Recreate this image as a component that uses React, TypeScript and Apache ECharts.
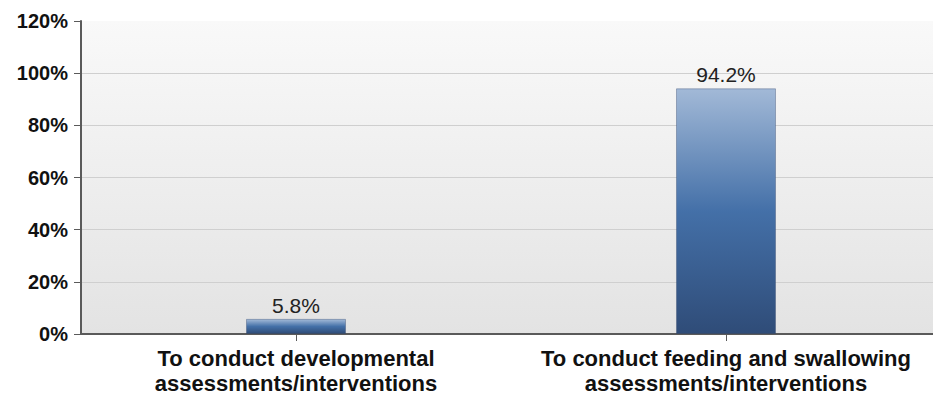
import React, { useEffect, useRef } from "react";
import * as echarts from "echarts";

const categories = [
  "To conduct developmental\nassessments/interventions",
  "To conduct feeding and swallowing\nassessments/interventions",
];
const values = [5.8, 94.2];
const yTicks = [0, 20, 40, 60, 80, 100, 120];

export default function App() {
  const ref = useRef<HTMLDivElement>(null);
  useEffect(() => {
    if (!ref.current) return;
    const chart = echarts.init(ref.current, null, { renderer: "svg" });
    const font = "'Liberation Sans', Arial, sans-serif";
    chart.setOption({
      animation: false,
      backgroundColor: "#ffffff",
      grid: {
        left: 81,
        right: 0,
        top: 21,
        bottom: 62,
        show: true,
        borderWidth: 0,
        backgroundColor: new echarts.graphic.LinearGradient(0, 0, 0, 1, [
          { offset: 0, color: "#f9f9f9" },
          { offset: 1, color: "#e3e3e3" },
        ]),
      },
      xAxis: {
        type: "category",
        data: categories,
        axisLine: { show: true, lineStyle: { color: "#5a5a5a", width: 2 } },
        axisTick: { show: true, alignWithLabel: true, length: 7, lineStyle: { color: "#5a5a5a", width: 1 } },
        axisLabel: {
          fontFamily: font,
          fontWeight: "bold",
          fontSize: 22,
          color: "#111",
          lineHeight: 25,
          margin: 12,
          interval: 0,
        },
      },
      yAxis: {
        type: "value",
        min: yTicks[0],
        max: yTicks[yTicks.length - 1],
        interval: 20,
        axisLine: { show: true, lineStyle: { color: "#5a5a5a", width: 2 } },
        axisTick: { show: true, length: 7, lineStyle: { color: "#5a5a5a", width: 1 } },
        axisLabel: {
          fontFamily: font,
          fontWeight: "bold",
          fontSize: 20,
          color: "#111",
          margin: 13,
          formatter: (v: number) => v + "%",
        },
        splitLine: {
          show: true,
          lineStyle: {
            color: ["#cfcfcf", "#cfcfcf", "#cfcfcf", "#cfcfcf", "#cfcfcf", "#cfcfcf", "rgba(0,0,0,0)"],
            width: 1,
          },
        },
      },
      series: [
        {
          type: "bar",
          data: values,
          barWidth: 100,
          itemStyle: {
            color: new echarts.graphic.LinearGradient(0, 0, 0, 1, [
              { offset: 0, color: "#a2b9d7" },
              { offset: 0.5, color: "#4470a8" },
              { offset: 1, color: "#2f4c78" },
            ]),
            borderColor: "rgba(40,60,100,0.35)",
            borderWidth: 1,
          },
          label: {
            show: true,
            position: "top",
            distance: 3,
            fontFamily: font,
            fontSize: 21,
            color: "#222",
            formatter: (p: any) => p.value + "%",
          },
        },
      ],
    });
    return () => chart.dispose();
  }, []);
  return (
    <div style={{ position: "absolute", left: 0, top: 0, width: 933, height: 396, overflow: "hidden" }}>
      <div ref={ref} style={{ width: 941, height: 396 }} />
    </div>
  );
}
